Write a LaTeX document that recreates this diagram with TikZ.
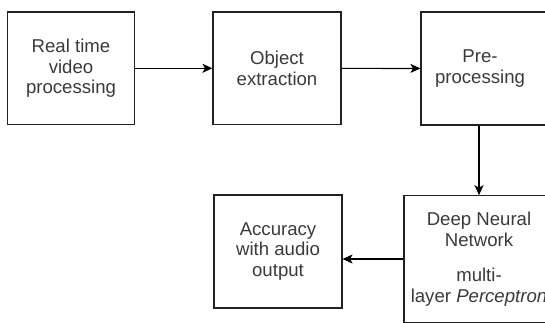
\documentclass[tikz,border=0pt]{standalone}
\usepackage{fontspec}
\setmainfont{Liberation Sans}
\usetikzlibrary{arrows.meta}
\definecolor{txtgray}{HTML}{3A3A3A}
\definecolor{linegray}{HTML}{222222}
\tikzset{
  stepbox/.style={draw=linegray, line width=1.1pt, rectangle, inner sep=0pt,
    align=center, text=txtgray, font=\fontsize{18.6}{20.5}\selectfont},
  lbl/.style={align=center, text=txtgray, font=\fontsize{18.6}{20.5}\selectfont},
  flow/.style={draw=black, line width=1.2pt,
    -{Stealth[length=10pt,width=9pt,inset=2.5pt]}}
}
\begin{document}
\begin{tikzpicture}[x=1pt,y=-1pt]
\useasboundingbox (0,0) rectangle (545,323);
\clip (0,0) rectangle (545,323);
\node[stepbox, minimum width=127.5pt, minimum height=112.5pt] (rt) at (71,68.3)
  {Real time\\video\\processing};
\node[stepbox, minimum width=128pt, minimum height=112.5pt] (obj) at (277,68.3)
  {Object\\extraction};
\node[stepbox, minimum width=128pt, minimum height=113pt,
  label={[lbl, xshift=-5pt]center:{Pre-\\processing}}] (pre) at (485,68.5) {};
\node[stepbox, minimum width=150pt, minimum height=126.5pt] (dnn) at (479,259)
  {Deep Neural\\Network\\[15pt]multi-\\layer \textit{Perceptron}};
\node[stepbox, minimum width=128pt, minimum height=113pt] (acc) at (278,251.5)
  {Accuracy\\with audio\\output};
\draw[flow] (rt) -- (obj);
\draw[flow] (obj) -- (pre);
\draw[flow] (pre.south -| dnn.north) -- (dnn.north);
\draw[flow] (dnn.west) -- (dnn.west -| acc.east);
\end{tikzpicture}
\end{document}
